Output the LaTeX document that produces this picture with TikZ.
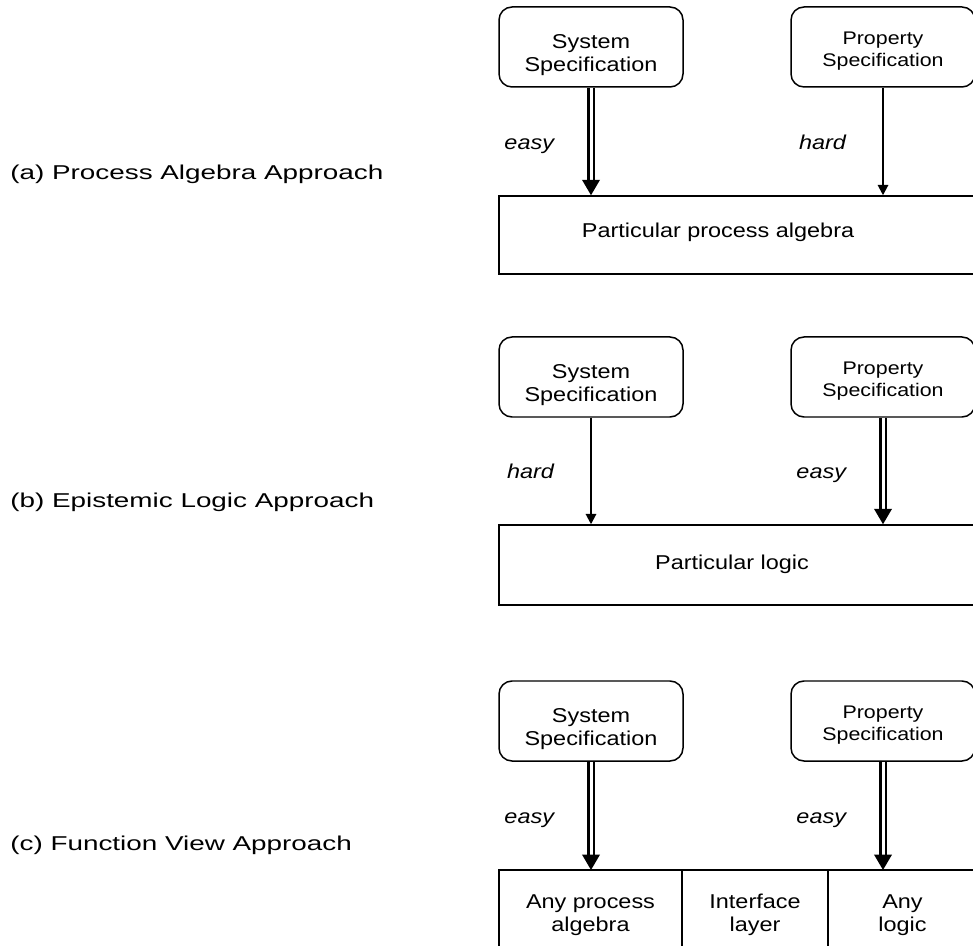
\documentclass[tikz,border=0pt]{standalone}
\usepackage{fontspec}
\setmainfont{Liberation Sans}[FakeStretch=1.17]
\newfontfamily\sidefont{Liberation Sans}[FakeStretch=1.39]
\usetikzlibrary{positioning, arrows.meta}

% strut that pushes the text of a box a little down
\newcommand{\padtop}[1]{\rule{0pt}{#1}}

\begin{document}
\begin{tikzpicture}[
    spec/.style={draw, line width=0.85pt, rounded corners=0.26cm, align=center,
                 font=\fontsize{11.4}{13.1}\selectfont, inner sep=0pt,
                 minimum width=3.68cm, minimum height=1.6cm},
    propspec/.style={spec, font=\fontsize{10.4}{12.8}\selectfont},
    target/.style={draw, line width=0.85pt, rectangle,
                   minimum width=9.56cm, minimum height=1.56cm},
    cell/.style={draw, line width=0.85pt, rectangle, align=center, inner sep=0pt,
                 outer sep=0pt, font=\fontsize{11.4}{13.1}\selectfont,
                 minimum height=1.8cm},
    body/.style={font=\fontsize{11.4}{13.1}\selectfont, inner sep=0pt},
    side/.style={font=\sidefont\fontsize{11.4}{13.1}\selectfont,
                 anchor=west, inner sep=0pt},
    easyarrow/.style={double, line width=1.15pt, double distance=1.7pt,
                      -{Triangle[length=8.8pt, width=10pt]}},
    hardarrow/.style={line width=1.15pt, -{Triangle[length=5.9pt, width=5.9pt]}},
    note/.style={font=\fontsize{11.4}{13.1}\selectfont\itshape, inner sep=0pt,
                 anchor=base east, xshift=-0.72cm, yshift=-0.16cm}
]
    \useasboundingbox (0, 0) rectangle (19.46, -18.92);

    % --- (a) Process Algebra ---
    \node[side] (labA) at (0.2, -3.48) {(a) Process Algebra Approach};
    \node[spec]     (sysA)  at (11.82, -0.94) {\padtop{17pt}System\\Specification};
    \node[propspec] (propA) at (17.66, -0.94) {\padtop{12pt}Property\\Specification};
    \node[target]   (partA) at (14.76, -4.70) {};
    \node[body]     (txtA)  at (14.36, -4.64) {Particular process algebra};
    \draw[easyarrow] (sysA) -- (sysA |- partA.north)
        node[midway, note] {easy};
    \draw[hardarrow] (propA) -- (propA |- partA.north)
        node[midway, note] {hard};

    % --- (b) Epistemic Logic ---
    \node[side] (labB) at (0.2, -10.04) {(b) Epistemic Logic Approach};
    \node[spec]     (sysB)  at (11.82, -7.54) {\padtop{17pt}System\\Specification};
    \node[propspec] (propB) at (17.66, -7.54) {\padtop{12pt}Property\\Specification};
    \node[target, minimum height=1.6cm] (partB) at (14.76, -11.30) {};
    \node[body]     (txtB)  at (14.64, -11.28) {Particular logic};
    \draw[hardarrow] (sysB) -- (sysB |- partB.north)
        node[midway, note] {hard};
    \draw[easyarrow] (propB) -- (propB |- partB.north)
        node[midway, note] {easy};

    % --- (c) Function View ---
    \node[side] (labC) at (0.2, -16.9) {(c) Function View Approach};
    \node[spec]     (sysC)  at (11.82, -14.42) {\padtop{17pt}System\\Specification};
    \node[propspec] (propC) at (17.66, -14.42) {\padtop{12pt}Property\\Specification};
    \node[cell, minimum width=3.66cm] (anyPA) at (11.81, -18.3)
        {Any process\\algebra};
    \node[cell, minimum width=2.92cm, right=0pt of anyPA] (iface)
        {Interface\\layer};
    \node[cell, minimum width=2.98cm, right=0pt of iface] (anyLog)
        {Any\\logic};
    \draw[easyarrow] (sysC) -- (sysC |- anyPA.north)
        node[midway, note] {easy};
    \draw[easyarrow] (propC) -- (propC |- anyLog.north)
        node[midway, note] {easy};
\end{tikzpicture}
\end{document}
